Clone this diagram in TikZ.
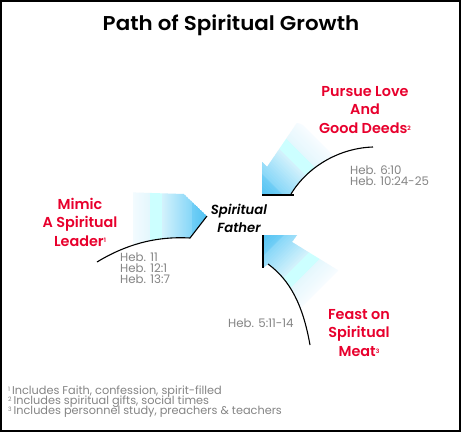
\documentclass[tikz,border=0pt]{standalone}
\usepackage{fontspec}
\setmainfont{Poppins}[BoldFont={Poppins SemiBold}, BoldItalicFont={Poppins SemiBold Italic}]
\usetikzlibrary{calc}
\definecolor{lblred}{HTML}{E8002D}
\definecolor{refgray}{HTML}{858585}
\definecolor{cA}{HTML}{52C2F2}
\definecolor{cB}{HTML}{72CFF6}
\definecolor{cC}{HTML}{88D7F8}
\definecolor{cD}{HTML}{D6F3FC}
\definecolor{cE}{HTML}{CCFFFF}
\definecolor{cF}{HTML}{E4F7FD}
\definecolor{cG}{HTML}{F7FCFF}
\newcommand\fnmark[1]{{\fontsize{6}{6}\selectfont\raisebox{0.55em}{#1}}}
% #1 tip, #2 #3 unit vector tip->tail, #4 #5 normal, #6 last step
\newcommand\gradstripes[6]{%
\foreach \s in {0,...,#6}{%
  \ifnum\s<15 \pgfmathtruncatemacro\p{100*\s/15}\colorlet{sc}{cB!\p!cA}%
  \else\ifnum\s<45 \pgfmathtruncatemacro\p{100*(\s-15)/30}\colorlet{sc}{cD!\p!cC}%
  \else\ifnum\s<57 \colorlet{sc}{cE}%
  \else \pgfmathtruncatemacro\p{100*(\s-57)/20}\colorlet{sc}{cG!\p!cF}\fi\fi\fi
  \fill[sc] ($(#1)+\s*(#2,#3)+70*(#4,#5)$) -- ($(#1)+\s*(#2,#3)-70*(#4,#5)$)
     -- ($(#1)+\s*(#2,#3)+1.4*(#2,#3)-70*(#4,#5)$) -- ($(#1)+\s*(#2,#3)+1.4*(#2,#3)+70*(#4,#5)$) -- cycle;
}}
\tikzset{
  lbl/.style={text=lblred, align=center, font=\fontsize{14.4}{18.5}\selectfont\bfseries, inner sep=0pt},
  heb/.style={text=refgray, anchor=west, font=\fontsize{11.8}{12}\selectfont, inner sep=0pt},
  foot/.style={text=refgray, anchor=west, font=\fontsize{11.3}{12}\selectfont, inner sep=0pt},
  curveline/.style={black, line width=1.1pt},
  edgeline/.style={black, line width=2pt},
}
\begin{document}
\begin{tikzpicture}[x=1pt,y=-1pt]
\useasboundingbox (0,0) rectangle (463,434);
\fill[white] (0,0) rectangle (463,434);
\draw[black, line width=1.6pt] (1.2,1.2) rectangle (460,431);

\coordinate (lt) at (207,216);
\coordinate (tt) at (262,195);
\coordinate (bt) at (263,235);

% left arrow
\begin{scope}
\clip (120,192) -- (184,194) -- (lt) -- (190,238) .. controls (155,236) and (125,245) .. (97,262) -- cycle;
\gradstripes{lt}{-1}{0}{0}{1}{73}
\end{scope}
% top arrow
\begin{scope}
\clip (tt) -- (262,162) -- (267,167) -- (297,123) -- (373,147) .. controls (340,148) and (308,166) .. (291,194) -- cycle;
\gradstripes{tt}{0.7071}{-0.7071}{0.7071}{0.7071}{77}
\end{scope}
% bottom arrow
\begin{scope}
\clip (bt) -- (297,235) -- (292,242) -- (352,279) -- (310,345) .. controls (303,305) and (290,280) .. (268,264) -- (263,268) -- cycle;
\gradstripes{bt}{0.7071}{0.7071}{0.7071}{-0.7071}{77}
\end{scope}

% black lines
\coordinate (lc0) at (97,262);
\coordinate (lc1) at (190,238);
\draw[curveline] (lc0) .. controls (125,245) and (155,236) .. (lc1) -- (lt);
\coordinate (tc0) at (373,147);
\coordinate (tc1) at (291,194);
\coordinate (tb) at (294,195);
\draw[curveline] (tc0) .. controls (340,148) and (308,166) .. (tc1);
\draw[edgeline] (tt) -- (tb);
\coordinate (bc0) at (310,345);
\coordinate (bc1) at (268,264);
\coordinate (bb) at (263,268);
\draw[curveline] (bc0) .. controls (303,305) and (290,280) .. (bc1);
\draw[edgeline] (bt) -- (bb);

% texts
\node[font=\fontsize{20}{22}\selectfont\bfseries\addfontfeature{FakeStretch=1.07}, inner sep=0pt] (title) at (231,25) {Path of Spiritual Growth};
\node[lbl] (mimic) at (80,222) {Mimic\\A Spiritual\\Leader\fnmark{1}};
\node[lbl] (pursue) at (365,110) {Pursue Love\\And\\Good Deeds\fnmark{2}};
\node[lbl] (feast) at (359,333) {Feast on\\Spiritual\\Meat\fnmark{3}};
\node[font=\fontsize{13.2}{18}\selectfont\bfseries\itshape, align=center, inner sep=0pt] (father) at (239,218) {Spiritual\\Father};

\node[heb] (h11) at (120,257) {Heb. 11};
\node[heb] (h121) at (120,268) {Heb. 12:1};
\node[heb] (h137) at (120,279) {Heb. 13:7};
\node[heb] (h610) at (350,170) {Heb. 6:10};
\node[heb] (h1024) at (350,181) {Heb. 10:24-25};
\node[heb] (h511) at (228,323) {Heb. 5:11-14};

\node[foot] (f1) at (8,392) {\fnmark{1}\,Includes Faith, confession, spirit-filled};
\node[foot] (f2) at (8,402) {\fnmark{2}\,Includes spiritual gifts, social times};
\node[foot] (f3) at (8,412) {\fnmark{3}\,Includes personnel study, preachers \& teachers};
\end{tikzpicture}
\end{document}
